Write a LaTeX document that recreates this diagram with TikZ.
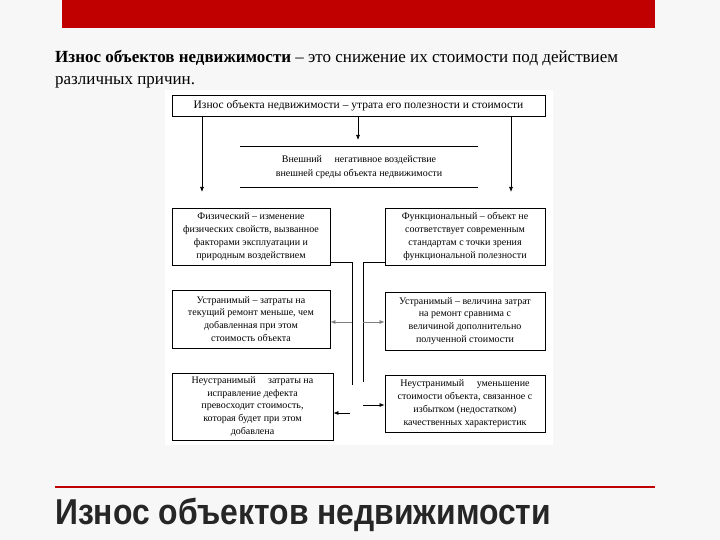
\documentclass[tikz,border=0pt]{standalone}
\usepackage{fontspec}
\setmainfont{Liberation Serif}
\newfontfamily\titlefont{Liberation Sans}
\usetikzlibrary{arrows.meta}
\definecolor{slidered}{RGB}{192,0,0}
\begin{document}
\begin{tikzpicture}[x=1pt,y=-1pt,
  bx/.style={draw,line width=0.8pt,align=center,font=\fontsize{10}{12.8}\selectfont,inner sep=0pt},
  ar/.style={-{Latex[length=5pt,width=4pt]},line width=0.7pt},
  gar/.style={-{Latex[length=5pt,width=4pt]},line width=0.7pt,gray}]
\useasboundingbox (0,0) rectangle (720,540);
\fill[gray!6] (0,0) rectangle (720,540);
\fill[slidered] (62,0) rectangle (655,28);
\node[anchor=west,font=\fontsize{17}{22}\selectfont,align=left,inner sep=0pt] (hdr) at (55,69)
 {\textbf{Износ объектов недвижимости} – это снижение их стоимости под действием\\различных причин.};
\fill[white] (165,90) rectangle (553,445);
\node[bx,font=\fontsize{11.5}{13}\selectfont,minimum width=373pt,minimum height=21pt] (top) at (358.5,105.5)
 {Износ объекта недвижимости – утрата его полезности и стоимости};
\node[align=center,font=\fontsize{10}{13.5}\selectfont,minimum width=238pt,minimum height=40pt,inner sep=0pt] (ext) at (359,167)
 {Внешний \quad негативное воздействие\\внешней среды объекта недвижимости};
\draw[line width=0.8pt] (ext.north west)--(ext.north east) (ext.south west)--(ext.south east);
\node[bx,minimum width=158pt,minimum height=57pt] (phys) at (251,236.5)
 {Физический – изменение\\физических свойств, вызванное\\факторами эксплуатации и\\природным воздействием};
\node[bx,minimum width=160pt,minimum height=57pt] (func) at (465,236.5)
 {Функциональный – объект не\\соответствует современным\\стандартам с точки зрения\\функциональной полезности};
\node[bx,minimum width=158pt,minimum height=58pt] (ul) at (251,319)
 {Устранимый – затраты на\\текущий ремонт меньше, чем\\добавленная при этом\\стоимость объекта};
\node[bx,minimum width=160pt,minimum height=58pt] (ur) at (465,321)
 {Устранимый – величина затрат\\на ремонт сравнима с\\величиной дополнительно\\полученной стоимости};
\node[bx,minimum width=161pt,minimum height=67pt] (nl) at (252.5,406.5)
 {Неустранимый \quad затраты на\\исправление дефекта\\превосходит стоимость,\\которая будет при этом\\добавлена};
\node[bx,minimum width=160pt,minimum height=57pt] (nr) at (465,403.5)
 {Неустранимый \quad уменьшение\\стоимости объекта, связанное с\\избытком (недостатком)\\качественных характеристик};
\coordinate (lv) at (352,262);
\coordinate (rv) at (363,262);
\draw[line width=0.8pt] (330,262)--(lv)--(352,385);
\draw[line width=0.8pt] (385,262)--(rv)--(363,382);
\draw[ar] (202,116)--(202,192);
\draw[ar] (358,116)--(358,140);
\draw[ar] (511,116)--(511,192);
\draw[gar] (352,322)--(ul.east|-0,322);
\draw[gar] (363,322)--(ur.west|-0,322);
\draw[ar] (350,413)--(nl.east|-0,413);
\draw[ar] (363,405)--(nr.west|-0,405);
\draw[slidered,line width=1.5pt] (55,487)--(655,487);
\node[anchor=west,font=\titlefont\bfseries\fontsize{36}{40}\selectfont,text=black!85,xscale=0.885,inner sep=0pt] (title) at (55,515) {Износ объектов недвижимости};
\end{tikzpicture}
\end{document}
